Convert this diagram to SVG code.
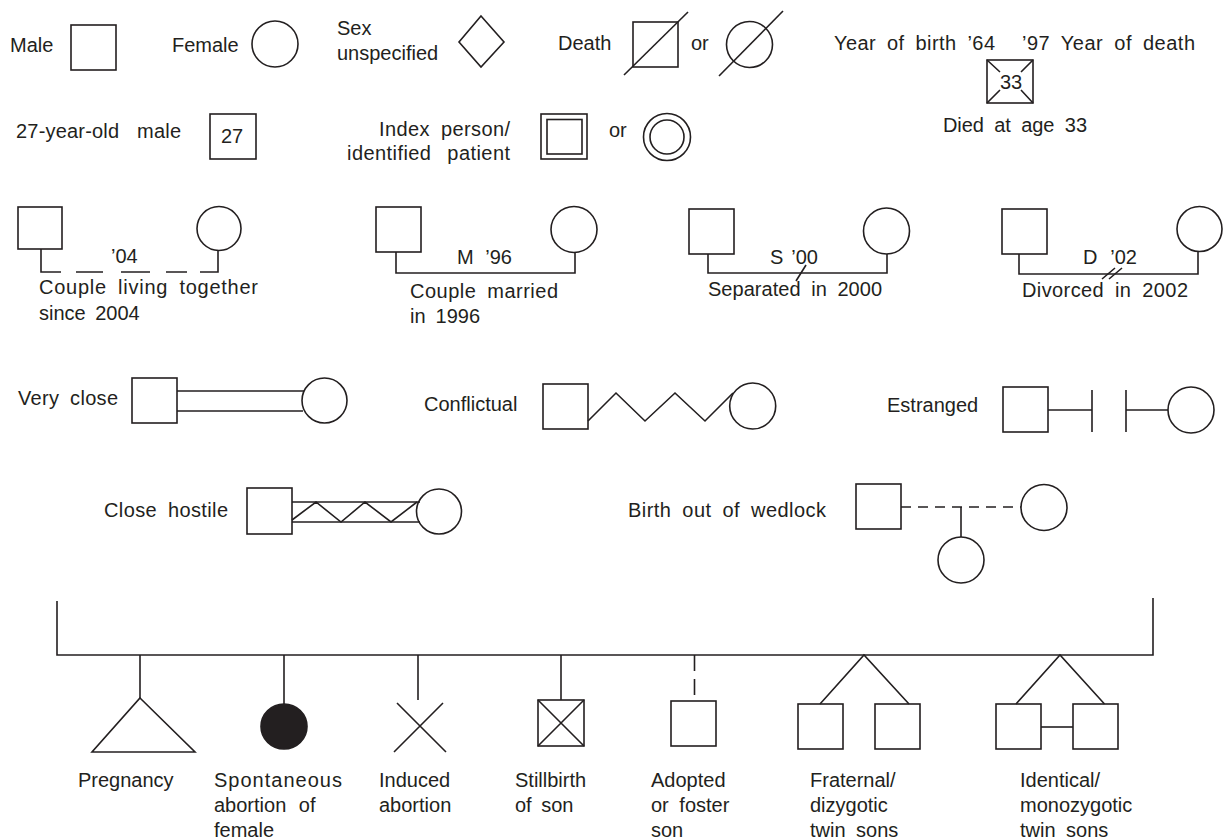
<svg xmlns="http://www.w3.org/2000/svg" width="1226" height="839" viewBox="0 0 1226 839">
<style>
.s{fill:none;stroke:#231f20;stroke-width:1.6}
.f{fill:#231f20;stroke:#231f20;stroke-width:1.6}
.d{fill:none;stroke:#231f20;stroke-width:1.6;stroke-dasharray:10 7}
.t{font-family:"Liberation Sans",Arial,sans-serif;font-size:20px;fill:#231f20}
.w{word-spacing:5px}
</style>
<rect width="1226" height="839" fill="#fff"/>

<g id="male"><text class="t" x="10" y="52">Male</text><rect class="s" x="71" y="25" width="45" height="45"/></g>
<g id="female"><text class="t" x="172" y="52">Female</text><circle class="s" cx="275" cy="44" r="23"/></g>
<g id="sex-unspecified"><text class="t" x="337" y="35">Sex</text><text class="t" x="337" y="60">unspecified</text><polygon class="s" points="481,16 504,42 481,67 459,42"/></g>
<g id="death"><text class="t" x="558" y="50">Death</text><rect class="s" x="633" y="22" width="45" height="45"/><line class="s" x1="624" y1="75" x2="688" y2="12"/><text class="t" x="691" y="50">or</text><circle class="s" cx="749.5" cy="44.5" r="23"/><line class="s" x1="719" y1="76" x2="783" y2="11"/></g>
<g id="died-age"><text class="t w" x="834" y="50" textLength="161" lengthAdjust="spacing">Year of birth ’64</text><text class="t w" x="1022" y="50" textLength="173" lengthAdjust="spacing">’97 Year of death</text><rect class="s" x="987" y="60" width="46" height="43"/><path class="s" d="M987,60 L1000,72 M1033,60 L1021,72 M987,103 L1000,90 M1033,103 L1021,90"/><text class="t" x="1011" y="89" text-anchor="middle" font-size="19">33</text><text class="t w" x="943" y="132" textLength="144" lengthAdjust="spacing">Died at age 33</text></g>

<g id="male-27"><text class="t" x="16" y="138" word-spacing="12" textLength="165" lengthAdjust="spacing">27-year-old male</text><rect class="s" x="210" y="114" width="46" height="45"/><text class="t" x="232" y="143" text-anchor="middle">27</text></g>
<g id="index-person"><text class="t w" x="379" y="136" textLength="131" lengthAdjust="spacing">Index person/</text><text class="t" x="347" y="160" word-spacing="10" textLength="163" lengthAdjust="spacing">identified patient</text><rect class="s" x="541" y="114" width="46" height="45"/><rect class="s" x="547" y="119.5" width="35" height="34.5"/><text class="t" x="609" y="137">or</text><circle class="s" cx="667" cy="137" r="23.5"/><circle class="s" cx="667" cy="137" r="17"/></g>

<g id="couple-living"><rect class="s" x="18" y="207" width="44" height="42"/><circle class="s" cx="219" cy="228.5" r="22"/><text class="t" x="111" y="263">’04</text><text class="t w" x="39" y="294" textLength="219" lengthAdjust="spacing">Couple living together</text><text class="t" x="39" y="320" word-spacing="4">since 2004</text></g>
<g id="couple-married"><rect class="s" x="376" y="207" width="45" height="45"/><circle class="s" cx="574" cy="229.5" r="23"/><text class="t" x="457" y="264" word-spacing="6">M ’96</text><text class="t w" x="410" y="298" textLength="148" lengthAdjust="spacing">Couple married</text><text class="t" x="410" y="323" word-spacing="4.4">in 1996</text></g>
<g id="couple-separated"><rect class="s" x="689" y="209" width="45" height="45"/><circle class="s" cx="886.5" cy="231" r="23"/><text class="t" x="770" y="264" word-spacing="2.4">S ’00</text><text class="t w" x="708" y="296" textLength="174" lengthAdjust="spacing">Separated in 2000</text></g>
<g id="couple-divorced"><rect class="s" x="1002" y="209" width="45" height="45"/><circle class="s" cx="1199.5" cy="229" r="22.5"/><text class="t" x="1083" y="264" word-spacing="7.3">D ’02</text><text class="t w" x="1022" y="297" textLength="166" lengthAdjust="spacing">Divorced in 2002</text></g>

<g id="very-close"><text class="t w" x="18" y="405" textLength="100" lengthAdjust="spacing">Very close</text><rect class="s" x="132" y="378" width="45" height="45"/><circle class="s" cx="324.5" cy="400.5" r="22.5"/></g>
<g id="conflictual"><text class="t" x="424" y="411">Conflictual</text><rect class="s" x="543" y="384" width="45" height="45"/><circle class="s" cx="752.7" cy="406" r="23"/></g>
<g id="estranged"><text class="t" x="887" y="412">Estranged</text><rect class="s" x="1003" y="387" width="45" height="45"/><circle class="s" cx="1191" cy="410" r="23"/></g>
<g id="close-hostile"><text class="t w" x="104" y="517" textLength="124" lengthAdjust="spacing">Close hostile</text><rect class="s" x="247" y="488" width="45" height="46"/><circle class="s" cx="439" cy="511.5" r="22.5"/></g>
<g id="wedlock"><text class="t w" x="628" y="517" textLength="198" lengthAdjust="spacing">Birth out of wedlock</text><rect class="s" x="856" y="484" width="45" height="45"/><circle class="s" cx="1044" cy="507.5" r="23"/><circle class="s" cx="961" cy="560" r="23"/></g>

<g id="pregnancy"><polygon class="s" points="140,698 195,752 92,752"/><text class="t" x="78" y="787">Pregnancy</text></g>
<g id="spontaneous-abortion"><ellipse class="f" cx="284" cy="726.5" rx="23" ry="22.5"/><text class="t" x="214" y="787" textLength="128" lengthAdjust="spacing">Spontaneous</text><text class="t" x="214" y="812" word-spacing="7">abortion of</text><text class="t" x="214" y="837">female</text></g>
<g id="induced-abortion"><path class="s" d="M397,703 L446,752 M443,703 L394,752"/><text class="t" x="379" y="787">Induced</text><text class="t" x="379" y="812">abortion</text></g>
<g id="stillbirth"><rect class="s" x="538" y="700" width="46" height="46"/><path class="s" d="M538,700 L584,746 M584,700 L538,746"/><text class="t" x="515" y="787">Stillbirth</text><text class="t" x="515" y="812" word-spacing="4">of son</text></g>
<g id="adopted"><rect class="s" x="671" y="701" width="45" height="45"/><text class="t" x="651" y="787">Adopted</text><text class="t" x="651" y="812" word-spacing="5">or foster</text><text class="t" x="651" y="837">son</text></g>
<g id="fraternal-twins"><rect class="s" x="798" y="704" width="45" height="45"/><rect class="s" x="875" y="704" width="45" height="45"/><text class="t" x="810" y="787">Fraternal/</text><text class="t" x="810" y="812">dizygotic</text><text class="t" x="810" y="837" word-spacing="5">twin sons</text></g>
<g id="identical-twins"><rect class="s" x="996" y="704" width="45" height="45"/><rect class="s" x="1073" y="704" width="45" height="45"/><text class="t" x="1020" y="787">Identical/</text><text class="t" x="1020" y="812">monozygotic</text><text class="t" x="1020" y="837" word-spacing="5">twin sons</text></g>

<g id="connectors">
<path class="s" d="M41,249 V272 H61 M76,272 H103 M121,272 H150 M166,272 H187 M200,272 H218 V250.5"/>
<path class="s" d="M396,252 V273 H575 V252.5"/>
<path class="s" d="M708,254 V273 H887 V254"/>
<line class="s" x1="796" y1="281" x2="806" y2="265"/>
<path class="s" d="M1019,254 V274 H1198 V251.5"/>
<path class="s" d="M1102,279 L1115,268 M1109,279 L1122,268"/>
<path class="s" d="M177,391 H304 M177,411 H303"/>
<polyline class="s" points="588,421 616,393 645,421 675,393 705,421 733,393"/>
<path class="s" d="M1048,410 H1092 M1092,390 V432 M1126,390 V432 M1126,410 H1168"/>
<path class="s" d="M292,502 H420 M292,522 H420"/>
<polyline class="s" points="292,520 316,502 341,522 365,502 391,522 417,502"/>
<line class="d" x1="901" y1="507" x2="1021" y2="507"/>
<line class="s" x1="961" y1="507" x2="961" y2="537"/>
<path class="s" d="M57,601 V655 H1153 V598"/>
<line class="s" x1="140" y1="655" x2="140" y2="698"/>
<line class="s" x1="284" y1="655" x2="284" y2="704"/>
<line class="s" x1="418" y1="655" x2="418" y2="700"/>
<line class="s" x1="561" y1="655" x2="561" y2="700"/>
<line class="s" x1="694.5" y1="655" x2="694.5" y2="701" stroke-dasharray="16 8"/>
<path class="s" d="M820,704 L864,655 L909,704"/>
<path class="s" d="M1016,704 L1060,655 L1104.5,704"/>
<line class="s" x1="1041" y1="727" x2="1073" y2="727"/>
</g>
</svg>
